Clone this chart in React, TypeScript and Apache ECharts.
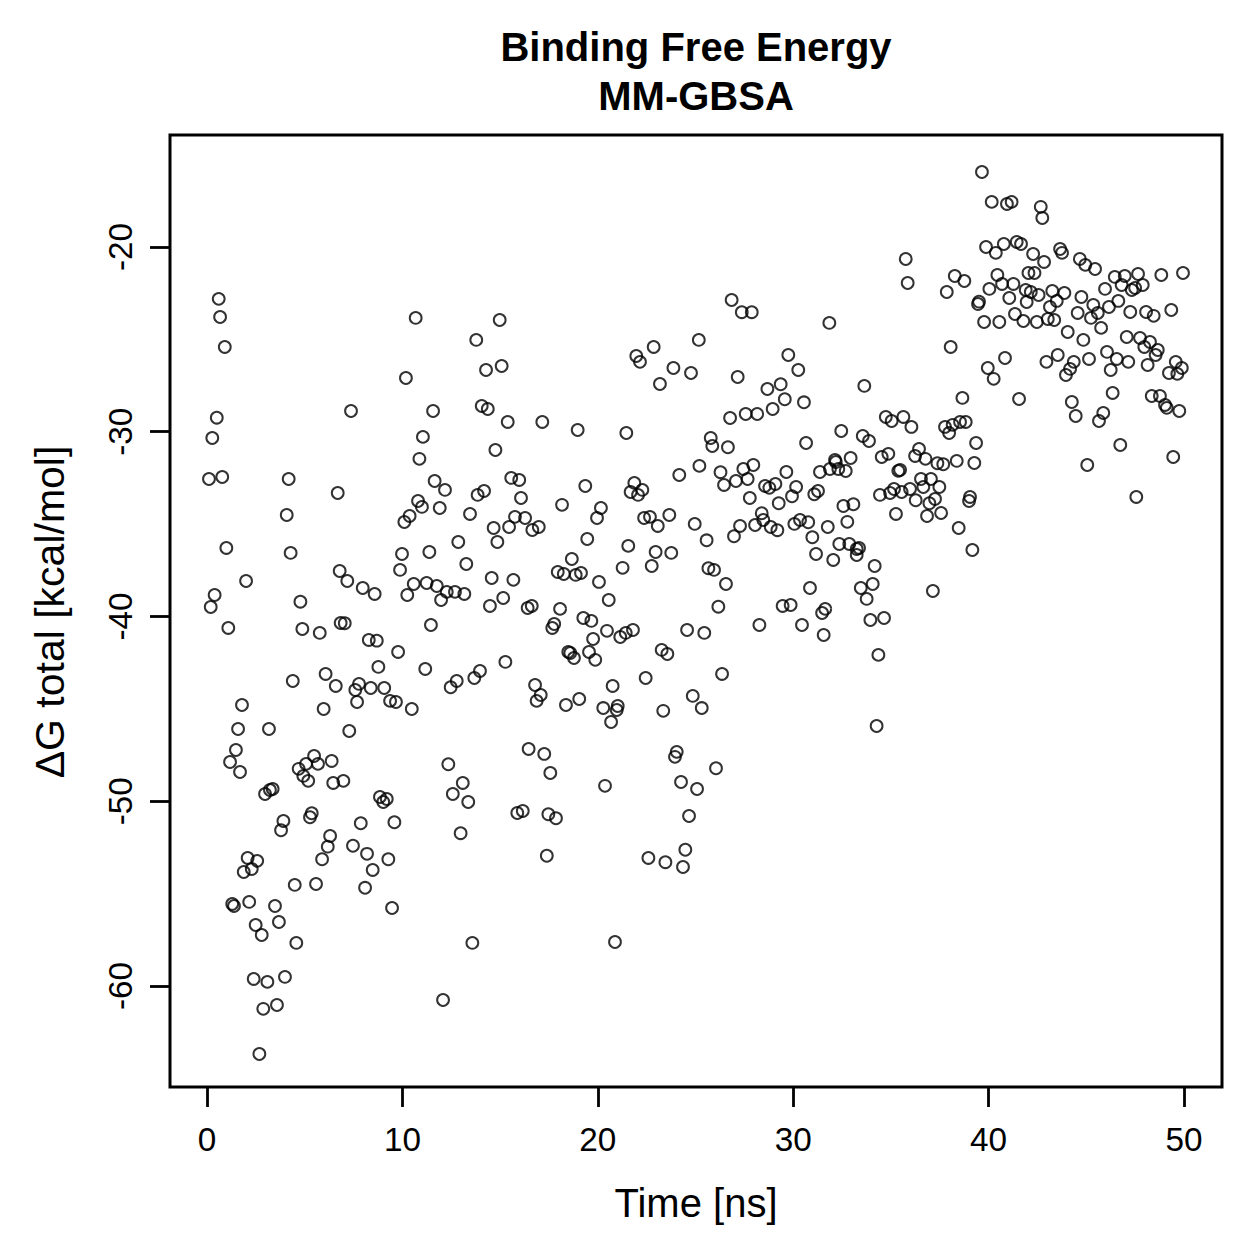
import React, { useEffect, useRef } from "react";
import * as echarts from "echarts";

const titleLines = ["Binding Free Energy", "MM-GBSA"];
const xAxisTitle = "Time [ns]";
const yAxisTitle = "ΔG total [kcal/mol]";
const xTicks = [0, 10, 20, 30, 40, 50];
const yTicks = [-60, -50, -40, -30, -20];
const xRange = [-1.894, 51.946];
const yRange = [-65.47, -13.94];

// [time (ns), ΔG total (kcal/mol)]
const samples: [number, number][] = [
  [0.10, -32.56], [0.19, -39.49], [0.27, -30.34], [0.39, -38.84], [0.50, -29.24], [0.60, -22.81],
  [0.67, -23.79], [0.78, -32.45], [0.91, -25.41], [0.99, -36.29], [1.09, -40.62], [1.18, -47.88],
  [1.29, -55.56], [1.38, -55.67], [1.48, -47.23], [1.59, -46.09], [1.69, -48.42], [1.79, -44.79],
  [1.88, -53.83], [2.00, -38.08], [2.08, -53.07], [2.16, -55.45], [2.29, -53.67], [2.39, -59.62],
  [2.49, -56.70], [2.57, -53.23], [2.68, -63.68], [2.80, -57.24], [2.88, -61.24], [2.97, -49.61],
  [3.09, -59.78], [3.17, -46.09], [3.22, -49.39], [3.36, -49.34], [3.48, -55.67], [3.58, -61.03],
  [3.68, -56.54], [3.79, -51.57], [3.91, -51.07], [3.99, -59.51], [4.08, -34.51], [4.18, -32.56],
  [4.28, -36.56], [4.39, -43.49], [4.49, -54.53], [4.57, -57.67], [4.69, -48.25], [4.78, -39.20],
  [4.88, -40.68], [4.93, -48.63], [5.07, -47.98], [5.18, -48.90], [5.27, -50.87], [5.36, -50.65],
  [5.48, -47.55], [5.58, -54.48], [5.68, -47.98], [5.77, -40.89], [5.89, -53.14], [5.97, -45.01],
  [6.07, -43.11], [6.18, -52.46], [6.30, -51.88], [6.38, -47.82], [6.46, -49.01], [6.59, -43.76],
  [6.69, -33.32], [6.79, -37.54], [6.98, -48.90], [6.84, -40.35], [7.05, -40.37], [7.18, -38.08],
  [7.28, -46.20], [7.37, -28.88], [7.47, -52.41], [7.59, -43.98], [7.68, -44.63], [7.78, -43.65],
  [7.87, -51.19], [7.97, -38.46], [8.09, -54.69], [8.19, -52.85], [8.28, -41.27], [8.38, -43.87],
  [8.48, -53.72], [8.58, -38.78], [8.69, -41.31], [8.77, -42.73], [8.85, -49.77], [9.02, -50.04],
  [9.07, -43.87], [9.20, -49.88], [9.28, -53.14], [9.37, -44.57], [9.47, -55.78], [9.59, -51.14],
  [9.67, -44.63], [9.78, -41.92], [9.88, -37.48], [9.98, -36.62], [10.10, -34.89], [10.18, -27.09],
  [10.25, -38.84], [10.37, -34.56], [10.48, -45.01], [10.58, -38.24], [10.68, -23.84], [10.80, -33.75],
  [10.87, -31.47], [11.00, -34.07], [11.05, -30.28], [11.17, -42.84], [11.24, -38.19], [11.38, -36.51],
  [11.46, -40.46], [11.57, -28.88], [11.65, -32.67], [11.76, -38.35], [11.91, -34.13], [11.98, -39.11],
  [12.08, -60.76], [12.18, -33.15], [12.27, -38.67], [12.35, -48.00], [12.47, -43.83], [12.58, -49.61],
  [12.69, -38.67], [12.78, -43.49], [12.86, -35.97], [12.98, -51.73], [13.09, -49.01], [13.17, -38.78],
  [13.27, -37.16], [13.37, -50.04], [13.46, -34.45], [13.58, -57.67], [13.68, -43.33], [13.78, -25.03],
  [13.85, -33.42], [13.97, -42.95], [14.06, -28.61], [14.18, -33.21], [14.28, -26.66], [14.37, -28.77],
  [14.48, -39.43], [14.57, -37.92], [14.67, -35.21], [14.76, -30.99], [14.86, -35.97], [14.98, -23.95],
  [15.08, -26.44], [15.16, -39.00], [15.27, -42.46], [15.39, -29.47], [15.46, -35.16], [15.57, -32.50],
  [15.68, -38.02], [15.76, -34.61], [15.88, -50.64], [15.98, -32.61], [16.07, -33.59], [16.16, -50.53],
  [16.28, -34.67], [16.41, -39.54], [16.46, -47.17], [16.62, -39.43], [16.79, -43.71], [16.87, -44.57],
  [16.98, -35.16], [17.08, -44.25], [16.65, -35.32], [17.16, -29.47], [17.26, -47.44], [17.39, -52.95],
  [17.47, -50.71], [17.57, -48.47], [17.67, -40.62], [17.77, -40.41], [17.86, -50.92], [17.95, -37.59],
  [18.07, -39.59], [18.17, -33.96], [18.26, -37.70], [18.37, -44.79], [18.49, -41.92], [18.59, -41.98],
  [18.67, -36.89], [18.87, -37.75], [18.78, -42.25], [18.97, -29.91], [19.14, -37.65], [19.05, -44.47],
  [19.26, -40.08], [19.36, -32.94], [19.46, -35.81], [19.67, -40.24], [19.76, -41.22], [19.55, -41.92],
  [19.87, -42.35], [19.96, -34.67], [20.06, -38.13], [20.16, -34.13], [20.28, -44.96], [20.37, -49.17],
  [20.47, -40.78], [20.56, -39.11], [20.68, -45.71], [20.76, -43.76], [20.88, -57.62], [20.97, -45.06],
  [21.02, -44.85], [21.15, -41.11], [21.27, -37.37], [21.43, -40.89], [21.46, -30.07], [21.56, -36.18],
  [21.68, -33.26], [21.80, -40.73], [21.87, -32.77], [21.97, -25.90], [22.06, -33.42], [22.16, -26.22],
  [22.28, -33.15], [22.37, -34.67], [22.45, -43.33], [22.59, -53.07], [22.67, -34.61], [22.76, -37.27],
  [22.86, -25.41], [22.96, -36.51], [23.07, -35.10], [23.18, -27.42], [23.27, -41.81], [23.35, -45.11],
  [23.46, -53.30], [23.56, -42.03], [23.66, -34.51], [23.76, -36.56], [23.87, -26.55], [23.95, -47.60],
  [24.04, -47.33], [24.17, -32.34], [24.26, -48.96], [24.36, -53.56], [24.48, -52.63], [24.57, -40.73],
  [24.67, -50.80], [24.77, -26.82], [24.86, -44.30], [24.96, -34.99], [25.08, -49.34], [25.17, -25.03],
  [25.20, -31.85], [25.32, -44.96], [25.45, -40.89], [25.57, -35.88], [25.78, -30.34], [25.86, -30.77],
  [25.66, -37.39], [25.95, -37.48], [26.05, -48.22], [26.17, -39.47], [26.28, -32.19], [26.36, -43.11],
  [26.46, -32.88], [26.56, -38.24], [26.66, -30.84], [26.77, -29.26], [26.85, -22.87], [26.97, -35.66],
  [27.07, -32.67], [27.16, -27.04], [27.28, -35.10], [27.37, -23.53], [27.45, -32.02], [27.57, -29.04],
  [27.67, -32.56], [27.78, -33.59], [27.88, -23.53], [27.96, -31.80], [28.05, -35.05], [28.16, -29.04],
  [28.27, -40.46], [28.39, -34.41], [28.47, -34.78], [28.56, -32.94], [28.68, -27.69], [28.78, -33.04],
  [28.85, -35.16], [28.95, -28.77], [29.09, -32.83], [29.19, -35.33], [29.26, -33.87], [29.36, -27.43],
  [29.46, -39.43], [29.57, -28.24], [29.65, -32.18], [29.75, -25.85], [29.87, -39.38], [29.94, -33.49],
  [30.06, -34.99], [30.15, -32.99], [30.26, -26.66], [30.35, -34.78], [30.45, -40.46], [30.55, -28.41],
  [30.66, -30.61], [30.77, -34.90], [30.86, -38.46], [30.98, -35.71], [31.08, -33.39], [31.17, -36.62],
  [31.27, -33.21], [31.37, -32.18], [31.48, -39.81], [31.56, -41.00], [31.64, -39.59], [31.77, -35.16],
  [31.85, -24.11], [31.88, -32.02], [32.05, -36.94], [32.14, -31.53], [32.18, -31.64], [32.31, -32.02],
  [32.36, -36.08], [32.46, -29.96], [32.57, -34.02], [32.69, -32.13], [32.77, -34.88], [32.87, -36.08],
  [32.94, -31.42], [33.08, -33.93], [33.25, -36.35], [33.37, -36.29], [33.25, -36.67], [33.46, -38.46],
  [33.56, -30.23], [33.64, -27.52], [33.76, -39.05], [33.88, -30.50], [33.95, -40.19], [34.07, -38.24],
  [34.17, -37.27], [34.27, -45.93], [34.36, -42.08], [34.44, -33.42], [34.53, -31.37], [34.65, -40.08],
  [34.74, -29.20], [34.87, -31.20], [34.96, -33.32], [35.04, -29.42], [35.16, -33.10], [35.26, -34.45],
  [35.38, -32.12], [35.47, -32.07], [35.55, -33.26], [35.64, -29.20], [35.76, -20.65], [35.86, -21.95],
  [35.98, -33.10], [36.05, -29.74], [36.24, -31.31], [36.27, -33.71], [36.44, -30.93], [36.54, -32.56],
  [36.66, -32.99], [36.77, -31.47], [36.85, -34.56], [36.97, -33.87], [37.05, -32.56], [37.15, -38.62],
  [37.26, -33.64], [37.38, -31.71], [37.48, -32.99], [37.57, -34.40], [37.68, -31.76], [37.77, -29.74],
  [37.86, -22.44], [37.98, -30.07], [38.06, -25.41], [38.16, -29.63], [38.27, -21.57], [38.37, -31.58],
  [38.47, -35.21], [38.54, -29.47], [38.66, -28.17], [38.76, -21.84], [38.83, -29.47], [39.00, -33.75],
  [39.05, -33.53], [39.17, -36.40], [39.27, -31.69], [39.36, -30.61], [39.46, -23.09], [39.51, -22.96],
  [39.66, -15.94], [39.77, -24.06], [39.87, -20.00], [39.96, -26.55], [40.04, -22.27], [40.16, -17.56],
  [40.26, -27.14], [40.37, -20.32], [40.45, -21.52], [40.55, -24.06], [40.69, -22.00], [40.78, -19.84],
  [40.84, -26.01], [40.94, -17.67], [41.06, -22.76], [41.18, -17.56], [41.27, -22.00], [41.35, -23.63],
  [41.44, -19.73], [41.56, -28.23], [41.66, -19.84], [41.78, -24.01], [41.90, -22.33], [41.95, -22.98],
  [42.04, -21.41], [42.16, -22.44], [42.28, -20.38], [42.35, -21.41], [42.47, -24.06], [42.56, -22.60],
  [42.67, -17.83], [42.75, -18.43], [42.84, -20.81], [42.96, -26.22], [43.03, -23.90], [43.14, -23.25],
  [43.26, -22.38], [43.36, -23.95], [43.49, -22.92], [43.54, -25.85], [43.66, -20.11], [43.76, -20.32],
  [43.88, -22.49], [43.96, -26.93], [44.05, -24.60], [44.17, -26.60], [44.26, -28.39], [44.36, -26.22],
  [44.46, -29.15], [44.56, -23.57], [44.67, -20.65], [44.75, -22.71], [44.85, -25.03], [44.95, -20.97],
  [45.05, -31.80], [45.14, -26.06], [45.24, -23.84], [45.36, -23.14], [45.45, -21.19], [45.59, -23.57],
  [45.65, -29.42], [45.76, -24.38], [45.87, -28.99], [45.96, -22.27], [46.06, -25.68], [46.16, -23.25],
  [46.25, -26.66], [46.35, -27.90], [46.46, -21.62], [46.56, -26.06], [46.64, -22.92], [46.74, -30.72],
  [46.81, -22.06], [46.97, -21.57], [47.07, -24.87], [47.15, -26.22], [47.25, -23.52], [47.33, -22.33],
  [47.50, -22.22], [47.56, -33.53], [47.65, -21.46], [47.75, -24.93], [47.89, -22.06], [47.97, -25.41],
  [48.06, -23.52], [48.14, -26.39], [48.26, -25.14], [48.35, -28.07], [48.45, -23.73], [48.55, -25.85],
  [48.66, -25.58], [48.77, -28.07], [48.84, -21.52], [49.03, -28.55], [49.12, -28.71], [49.23, -26.82],
  [49.35, -23.41], [49.45, -31.37], [49.58, -26.22], [49.66, -26.87], [49.76, -28.88], [49.89, -26.55],
  [49.95, -21.41],
];

const FONT = "'Liberation Sans', Arial, Helvetica, sans-serif";

export default function App() {
  const ref = useRef<HTMLDivElement>(null);
  useEffect(() => {
    document.body.style.margin = "0";
    if (!ref.current) return;
    const chart = echarts.init(ref.current, undefined, { renderer: "svg" });
    const axisFont = { fontFamily: FONT, fontSize: 33.3, color: "#000" };
    const centered = {
      fill: "#000",
      align: "center",
      verticalAlign: "middle",
      textAlign: "center",
      textVerticalAlign: "middle",
    };
    chart.setOption({
      animation: false,
      backgroundColor: "#fff",
      grid: {
        left: 170,
        top: 135,
        width: 1052,
        height: 952,
        show: true,
        borderColor: "#000",
        borderWidth: 3,
        backgroundColor: "transparent",
      },
      xAxis: {
        type: "value",
        min: xRange[0],
        max: xRange[1],
        axisLine: { show: false, onZero: false },
        splitLine: { show: false },
        axisTick: {
          show: true,
          inside: false,
          length: 20,
          customValues: xTicks,
          lineStyle: { color: "#000", width: 2.8 },
        },
        axisLabel: {
          ...axisFont,
          margin: 36,
          customValues: xTicks,
          formatter: (v: number) => String(v),
        },
      },
      yAxis: {
        type: "value",
        min: yRange[0],
        max: yRange[1],
        axisLine: { show: false, onZero: false },
        splitLine: { show: false },
        axisTick: {
          show: true,
          inside: false,
          length: 20,
          customValues: yTicks,
          lineStyle: { color: "#000", width: 2.8 },
        },
        axisLabel: {
          ...axisFont,
          rotate: 90,
          margin: 33,
          customValues: yTicks,
          formatter: (v: number) => String(v),
        },
      },
      graphic: [
        {
          type: "text",
          x: 696,
          y: 47,
          style: { text: titleLines[0], font: `bold 40px ${FONT}`, ...centered },
        },
        {
          type: "text",
          x: 696,
          y: 96,
          style: { text: titleLines[1], font: `bold 40px ${FONT}`, ...centered },
        },
        {
          type: "text",
          x: 696,
          y: 1203,
          style: { text: xAxisTitle, font: `40px ${FONT}`, ...centered },
        },
        {
          type: "text",
          x: 50,
          y: 612,
          rotation: Math.PI / 2,
          style: { text: yAxisTitle, font: `41px ${FONT}`, ...centered },
        },
      ],
      series: [
        {
          type: "scatter",
          data: samples,
          symbol: "circle",
          symbolSize: 11.8,
          silent: true,
          itemStyle: {
            color: "rgba(0,0,0,0)",
            borderColor: "#000",
            borderWidth: 2,
          },
        },
      ],
    });
    return () => chart.dispose();
  }, []);
  return <div ref={ref} style={{ width: 1259, height: 1259 }} />;
}
